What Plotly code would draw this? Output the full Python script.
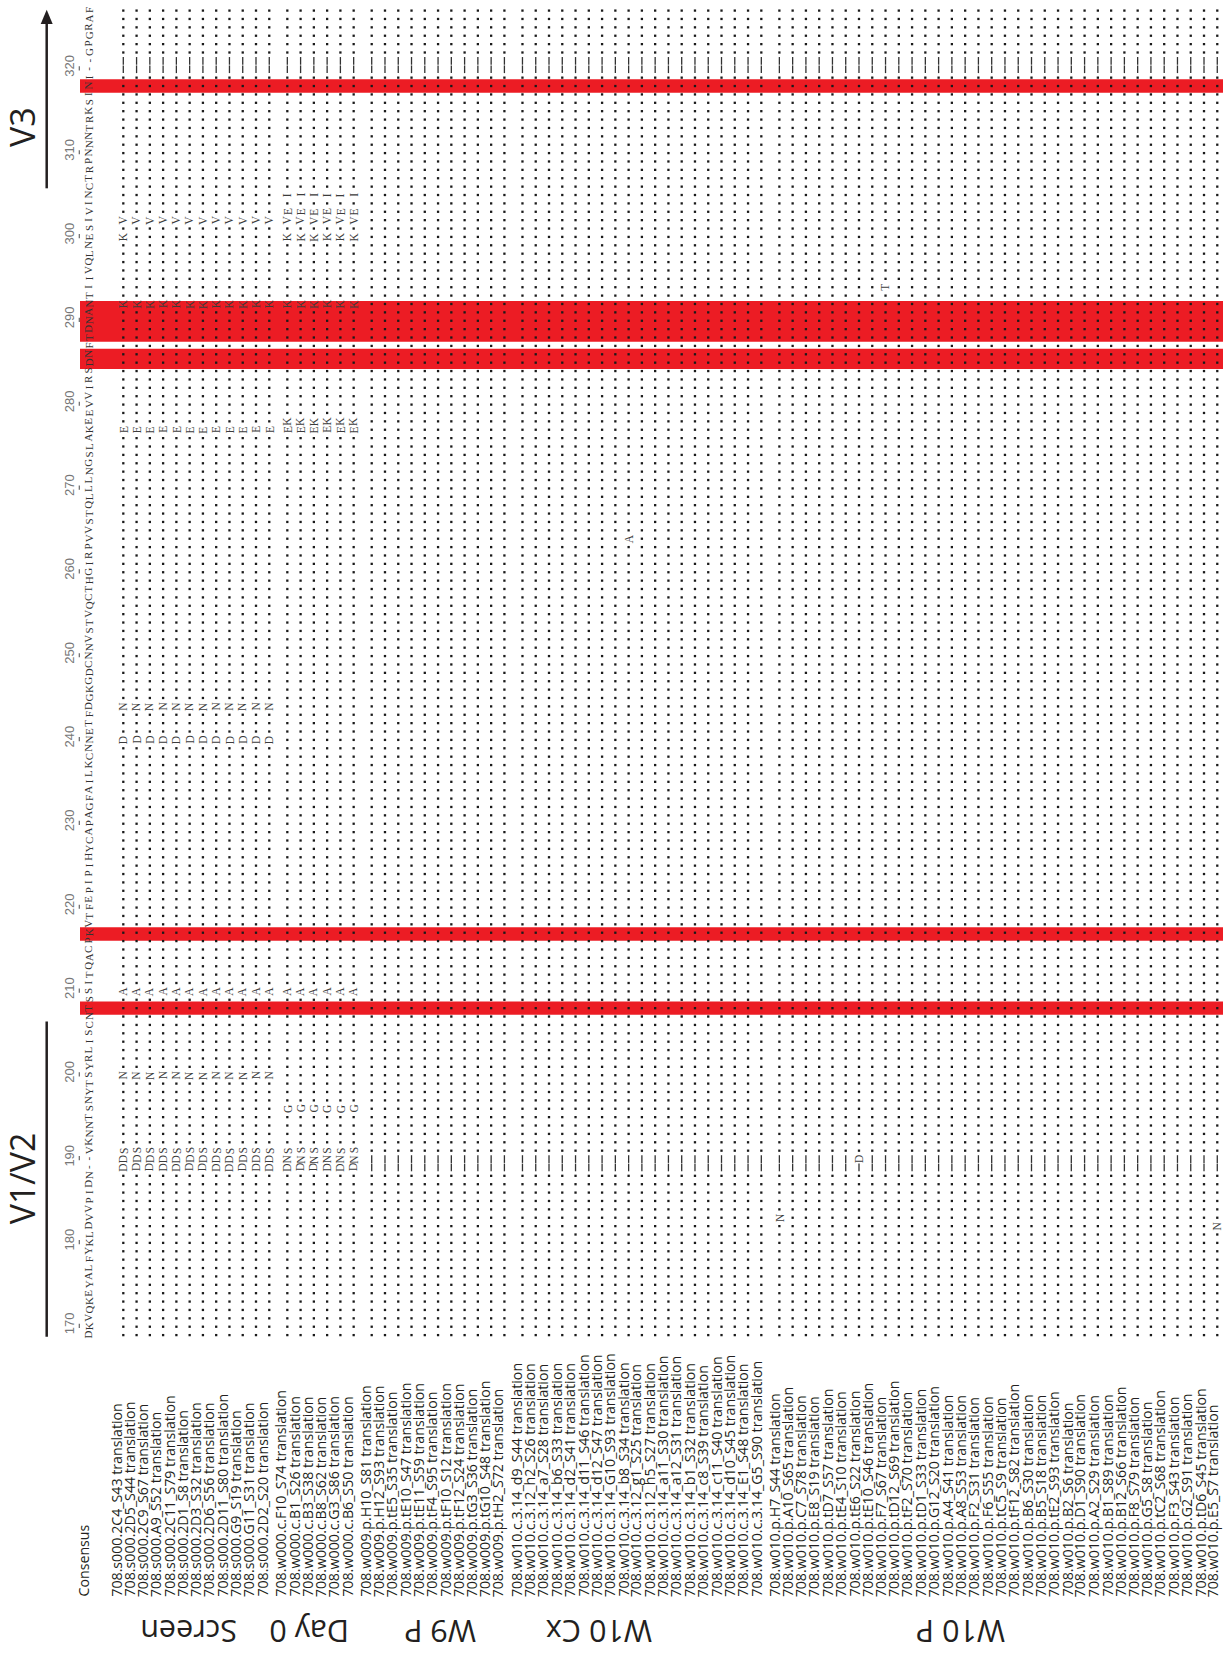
import plotly.graph_objects as go

# ---------------------------------------------------------------- alignment data
CONSENSUS = ("DKVQKEYALFYKLDVVPIDN--VKNNTSNYTSYRLISCNTSS"
             "ITQACPKVTFEPIPIHYCAPAGFAILKCNNETFDGKGDCN"
             "NVSTVQCTHGIRPVVSTQLLLNGSLAKEEVVIRSDNFTDN"
             "ANTIIVQLNESIVINCTRPNNNTRKSINI--GPGRAF")
FIRST_POS = 170
POS_TICKS = list(range(170, 321, 10))

GROUP_NAMES = ["Screen", "Day 0", "W9 P", "W10 Cx", "W10 P"]

SCREEN_IDS = ["708.s000.2C4_S43", "708.s000.2D5_S44", "708.s000.2C9_S67", "708.s000.A9_S52",
              "708.s000.2C11_S79", "708.s000.2D1_S8", "708.s000.2D3_S32", "708.s000.2D6_S56",
              "708.s000.2D11_S80", "708.s000.G9_S19", "708.s000.G11_S31", "708.s000.2D2_S20"]
DAY0_IDS = ["708.w000.c.F10_S74", "708.w000.c.B1_S26", "708.w000.c.B3_S38",
            "708.w000.c.B8_S62", "708.w000.c.G3_S86", "708.w000.c.B6_S50"]
W9P_IDS = ["708.w009.p.H10_S81", "708.w009.p.H12_S93", "708.w009.p.tE5_S35", "708.w009.p.tE10_S47",
           "708.w009.p.tE11_S59", "708.w009.p.tF4_S95", "708.w009.p.tF10_S12", "708.w009.p.tF12_S24",
           "708.w009.p.tG3_S36", "708.w009.p.tG10_S48", "708.w009.p.tH2_S72"]
W10CX_IDS = ["708.w010.c.3.14_d9_S44", "708.w010.c.3.12_h2_S26", "708.w010.c.3.14_a7_S28",
             "708.w010.c.3.14_b6_S33", "708.w010.c.3.14_d2_S41", "708.w010.c.3.14_d11_S46",
             "708.w010.c.3.14_d12_S47", "708.w010.c.3.14_G10_S93", "708.w010.c.3.14_b8_S34",
             "708.w010.c.3.12_g1_S25", "708.w010.c.3.12_h5_S27", "708.w010.c.3.14_a11_S30",
             "708.w010.c.3.14_a12_S31", "708.w010.c.3.14_b1_S32", "708.w010.c.3.14_c8_S39",
             "708.w010.c.3.14_c11_S40", "708.w010.c.3.14_d10_S45", "708.w010.c.3.14_E1_S48",
             "708.w010.c.3.14_G5_S90"]
W10P_IDS = ["708.w010.p.H7_S44", "708.w010.p.A10_S65", "708.w010.p.C7_S78", "708.w010.p.E8_S19",
            "708.w010.p.tD7_S57", "708.w010.p.tE4_S10", "708.w010.p.tE6_S22", "708.w010.p.tE10_S46",
            "708.w010.p.F7_S67", "708.w010.p.tD12_S69", "708.w010.p.tF2_S70", "708.w010.p.tD1_S33",
            "708.w010.p.G12_S20", "708.w010.p.A4_S41", "708.w010.p.A8_S53", "708.w010.p.F2_S31",
            "708.w010.p.F6_S55", "708.w010.p.tC5_S9", "708.w010.p.tF12_S82", "708.w010.p.B6_S30",
            "708.w010.p.B5_S18", "708.w010.p.tE2_S93", "708.w010.p.B2_S6", "708.w010.p.D1_S90",
            "708.w010.p.A2_S29", "708.w010.p.B1_S89", "708.w010.p.B12_S66", "708.w010.p.F8_S79",
            "708.w010.p.G5_S8", "708.w010.p.tC2_S68", "708.w010.p.F3_S43", "708.w010.p.G2_S91",
            "708.w010.p.tD6_S45", "708.w010.p.E5_S7"]
GROUP_IDS = [SCREEN_IDS, DAY0_IDS, W9P_IDS, W10CX_IDS, W10P_IDS]

# substitutions shared by every clone of a group (alignment row -> residue)
SCREEN_SUBS = {20: "D", 21: "D", 22: "S", 31: "N", 41: "A", 71: "D", 75: "N",
               108: "E", 123: "K", 133: "V"}
DAY0_SUBS = {20: "D", 21: "N", 22: "S", 27: "G", 41: "A", 108: "E", 109: "K",
             123: "K", 131: "K", 133: "V", 134: "E", 136: "I"}
GROUP_SUBS = [SCREEN_SUBS, DAY0_SUBS, {}, {}, {}]

# substitutions carried by single clones
CLONE_SUBS = {
    "708.s000.2C4_S43": {131: "K"},
    "708.w010.c.3.14_b8_S34": {95: "A"},
    "708.w010.p.H7_S44": {14: "N"},
    "708.w010.p.tE6_S22": {21: "D"},
    "708.w010.p.F7_S67": {125: "T"},
    "708.w010.p.E5_S7": {13: "N"},
}

# highlighted alignment rows (lower, upper edge)
HIGHLIGHT_ROWS = [(38.2, 39.8), (47.05, 48.65), (115.25, 117.65), (118.5, 123.35), (148.2, 149.8)]

# variable loops: name, first row, last row, arrow at the end
LOOPS = [("V1/V2", -0.2, 37.4, False), ("V3", 136.8, 158.1, True)]

# ---------------------------------------------------------------- geometry
W, H = 1223, 1660
PX_X, PX_Y = 13.27, 8.383          # pixels per column / per alignment row
ORIGIN_X, ORIGIN_Y = 123.3, 1335.1  # pixel of first clone column / first row
GROUP_GAP = 0.36

CONS_X = (88.5 - ORIGIN_X) / PX_X
NUM_X = (69.5 - ORIGIN_X) / PX_X
TICK_X = (79.3 - ORIGIN_X) / PX_X
NAME_Y = (ORIGIN_Y - 1598.0) / PX_Y
NAME_X0, NAME_STEP = 115.7, 13.31   # pixel of first clone name / spacing per column
GROUP_LABEL_Y = (ORIGIN_Y - 1632.0) / PX_Y
LOOP_LINE_X = (46.7 - ORIGIN_X) / PX_X
LOOP_TEXT_X = (22.0 - ORIGIN_X) / PX_X
BAND_X0 = (80.0 - ORIGIN_X) / PX_X
GROUP_LABEL_X = [(px - ORIGIN_X) / PX_X for px in (189, 309, 440, 599, 961)]
LOOP_TEXT_Y = [18.7, 144.1]

X_RANGE = [-ORIGIN_X / PX_X, (W - ORIGIN_X) / PX_X]
Y_RANGE = [-(H - ORIGIN_Y) / PX_Y, ORIGIN_Y / PX_Y]

LETTER_FONT = dict(family="Liberation Serif", size=11.5, color="#3c3c3c")
CONS_FONT = dict(family="Liberation Serif", size=11, color="#333333")
NAME_FONT = dict(family="Open Sans", size=14.2, color="#231f20")

# ---------------------------------------------------------------- build cells
dot_x, dot_y, gap_x, gap_y = [], [], [], []
annotations = []


def rot_text(x, y, text, font, angle=-90, xanchor="center", yanchor="middle"):
    annotations.append(dict(x=x, y=y, xref="x", yref="y", text=text, showarrow=False,
                            textangle=angle, font=font, xanchor=xanchor, yanchor=yanchor,
                            borderpad=0))


col = 0
for g, ids in enumerate(GROUP_IDS):
    for cid in ids:
        x = col + GROUP_GAP * g
        seq = list(CONSENSUS)
        for r, aa in GROUP_SUBS[g].items():
            seq[r] = aa
        for r, aa in CLONE_SUBS.get(cid, {}).items():
            seq[r] = aa
        for r, aa in enumerate(seq):
            if aa == "-":
                gap_x.append(x)
                gap_y.append(r)
            elif aa == CONSENSUS[r]:
                dot_x.append(x)
                dot_y.append(r)
            else:
                rot_text(x, r, aa, LETTER_FONT)
        # clone name, read bottom to top
        label_x = (NAME_X0 + NAME_STEP * x - ORIGIN_X) / PX_X
        rot_text(label_x, NAME_Y, cid + " translation", NAME_FONT, yanchor="bottom")
        col += 1

# consensus row
rot_text((82.5 - ORIGIN_X) / PX_X, NAME_Y, "Consensus", NAME_FONT, yanchor="bottom")
for r, aa in enumerate(CONSENSUS):
    rot_text(CONS_X, r, aa, CONS_FONT)

# residue numbering
tick_rows = [p - FIRST_POS + 1 for p in POS_TICKS]
for p, r in zip(POS_TICKS, tick_rows):
    rot_text(NUM_X, r + 0.35, str(p), dict(family="Liberation Sans", size=13, color="#777777"))

# group names (upside down)
for name, gx in zip(GROUP_NAMES, GROUP_LABEL_X):
    rot_text(gx, GROUP_LABEL_Y, name, dict(family="Open Sans", size=30.5, color="#231f20"), angle=180)

# loop labels
for (name, lo, hi, arrow), ty in zip(LOOPS, LOOP_TEXT_Y):
    rot_text(LOOP_TEXT_X, ty, name, dict(family="Open Sans", size=34, color="#231f20"))

fig = go.Figure()

fig.add_trace(go.Scatter(
    x=dot_x, y=dot_y, mode="markers", hoverinfo="skip",
    marker=dict(symbol="square", size=2.3, color="#1a1a1a", line=dict(width=0)),
))
fig.add_trace(go.Scatter(
    x=gap_x, y=gap_y, mode="markers", hoverinfo="skip",
    marker=dict(symbol="line-ns", size=5.5, color="#333333", line=dict(width=1.3, color="#333333")),
))
fig.add_trace(go.Scatter(
    x=[TICK_X] * len(tick_rows), y=[r + 0.1 for r in tick_rows], mode="markers", hoverinfo="skip",
    marker=dict(symbol="line-ns", size=3, line=dict(width=1.2, color="#666666")),
))

shapes = []
for lo, hi in HIGHLIGHT_ROWS:
    shapes.append(dict(type="rect", xref="x", yref="y", x0=BAND_X0, x1=X_RANGE[1] + 1,
                       y0=lo, y1=hi, fillcolor="#ec1c24", line=dict(width=0), layer="below"))

for name, lo, hi, arrow in LOOPS:
    head = 1.7 if arrow else 0.0
    shapes.append(dict(type="line", xref="x", yref="y", x0=LOOP_LINE_X, x1=LOOP_LINE_X,
                       y0=lo, y1=hi - head, line=dict(color="#231f20", width=2.5)))
    if arrow:
        shapes.append(dict(type="path", xref="x", yref="y",
                           path=(f"M {LOOP_LINE_X - 0.45},{hi - head} L {LOOP_LINE_X},{hi} "
                                 f"L {LOOP_LINE_X + 0.45},{hi - head} Z"),
                           fillcolor="#231f20", line=dict(width=0)))

fig.update_layout(
    width=W, height=H, autosize=False,
    margin=dict(l=0, r=0, t=0, b=0),
    paper_bgcolor="white", plot_bgcolor="white",
    showlegend=False,
    xaxis=dict(range=X_RANGE, visible=False, fixedrange=True),
    yaxis=dict(range=Y_RANGE, visible=False, fixedrange=True),
    shapes=shapes,
    annotations=annotations,
)

fig.write_html("out.html")
